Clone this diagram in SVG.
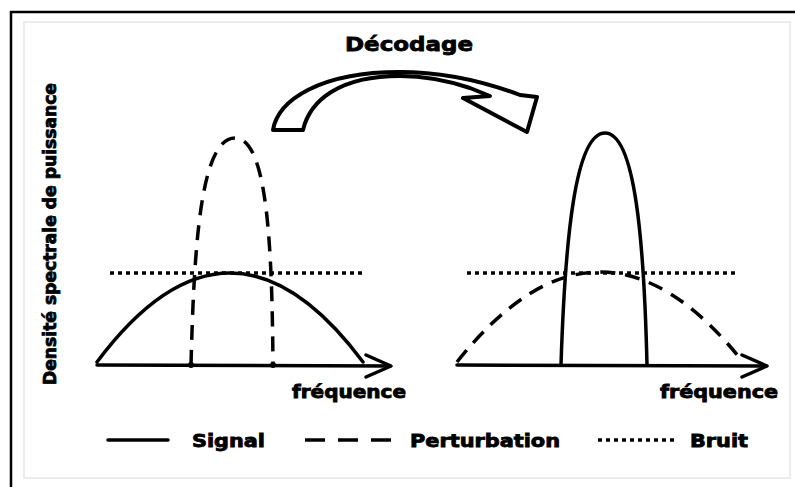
<svg xmlns="http://www.w3.org/2000/svg" width="795" height="487" viewBox="0 0 795 487">
<style>
.t{font-family:"DejaVu Sans","Liberation Sans",sans-serif;font-weight:bold;fill:#000;stroke:#000;stroke-width:0.8}
.s{fill:none;stroke:#000;stroke-width:3.5;stroke-linecap:round;stroke-linejoin:round}
.d{fill:none;stroke:#000;stroke-width:3.5;stroke-dasharray:15 10}
.n{fill:none;stroke:#000;stroke-width:3.5;stroke-dasharray:4 4}
</style>
<rect x="0" y="0" width="795" height="487" fill="#fff"/>
<rect x="11" y="12" width="800" height="490" fill="none" stroke="#000" stroke-width="2.5"/>
<rect x="24" y="22" width="766" height="456" fill="#fff" stroke="#ececec" stroke-width="2"/>
<g id="title"><text class="t" x="409" y="51" font-size="20" text-anchor="middle" textLength="128" lengthAdjust="spacingAndGlyphs">Décodage</text></g>
<g id="decode-arrow"><path d="M273,130 C278,100 320,72 400,72 C440,72 480,80 520,95 L537,97 L527,132 L463,98 L490,96 L470,88 C440,78 420,76 400,76 C340,76 310,100 303,130 Z" fill="#fff" stroke="#000" stroke-width="4" stroke-linejoin="round"/></g>
<g id="ylabel"><text class="t" transform="translate(56,234) rotate(-90)" font-size="17" text-anchor="middle" textLength="302" lengthAdjust="spacingAndGlyphs">Densité spectrale de puissance</text></g>
<g id="connectors">
<g id="left-plot">
<line class="s" x1="97" y1="365" x2="390" y2="366"/>
<path class="s" d="M366,355 L391,366 L366,377" fill="none"/>
<circle cx="191" cy="365" r="3"/><circle cx="273" cy="365" r="3"/>
<line class="n" x1="110" y1="273" x2="363" y2="273"/>
<path class="s" d="M97,362 Q230,184 363,362"/>
<path class="d" d="M191,365 C194,250 200,138 235,138 C268,138 272,250 273,365"/>
</g>
<g id="right-plot">
<line class="s" x1="457" y1="365" x2="766" y2="366"/>
<path class="s" d="M742,355 L767,366 L742,377" fill="none"/>
<line class="n" x1="467" y1="273" x2="735" y2="273"/>
<path class="d" d="M457,362 Q600,182 743,362"/>
<path class="s" d="M561,365 C565,240 575,133 605,133 C635,133 644,240 647,365"/>
</g>
</g>
<g id="xlabel-left"><text class="t" x="292" y="398" font-size="17" textLength="114" lengthAdjust="spacingAndGlyphs">fréquence</text></g>
<g id="xlabel-right"><text class="t" x="660" y="398" font-size="17" textLength="118" lengthAdjust="spacingAndGlyphs">fréquence</text></g>
<g id="legend">
<line class="s" x1="108" y1="440" x2="168" y2="440" stroke-linecap="butt"/>
<text class="t" x="192" y="447" font-size="17" textLength="73" lengthAdjust="spacingAndGlyphs">Signal</text>
<line x1="305" y1="440" x2="392" y2="440" stroke="#000" stroke-width="3.5" stroke-dasharray="20 13"/>
<text class="t" x="410" y="447" font-size="17" textLength="150" lengthAdjust="spacingAndGlyphs">Perturbation</text>
<line class="n" x1="598" y1="440" x2="675" y2="440"/>
<text class="t" x="690" y="447" font-size="17" textLength="58" lengthAdjust="spacingAndGlyphs">Bruit</text>
</g>
</svg>
